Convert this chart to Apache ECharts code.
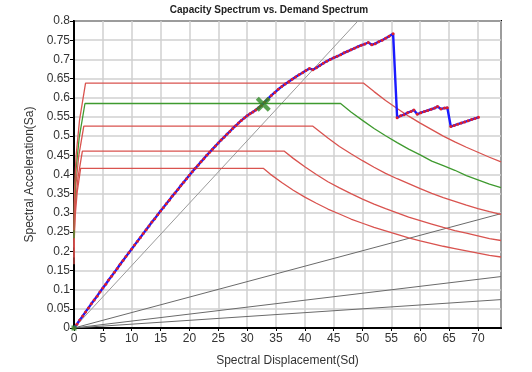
<!DOCTYPE html>
<html><head><meta charset="utf-8">
<script src="https://cdn.jsdelivr.net/npm/echarts@6/dist/echarts.min.js"></script>
<style>html,body{margin:0;padding:0;background:#fff}#c{width:532px;height:372px}</style>
</head><body><div id="c"></div>
<script>
// Capacity curve [Sd, Sa]
var capacity = [
[0,0],[0.5,0.010],[1.0,0.021],[1.5,0.031],[2.0,0.042],[2.5,0.052],[3.0,0.063],[3.5,0.073],[4.0,0.083],[4.5,0.094],
[5.0,0.104],[5.5,0.114],[6.0,0.125],[6.5,0.135],[7.0,0.145],[7.5,0.155],[8.0,0.166],[8.5,0.176],[9.0,0.186],[9.5,0.196],
[10.0,0.206],[10.5,0.216],[11.0,0.226],[11.5,0.236],[12.0,0.246],[12.5,0.256],[13.0,0.266],[13.5,0.276],[14.0,0.285],[14.5,0.295],
[15.0,0.305],[15.5,0.314],[16.0,0.324],[16.5,0.333],[17.0,0.343],[17.5,0.352],[18.0,0.361],[18.5,0.371],[19.0,0.380],[19.5,0.389],
[20.0,0.398],[20.5,0.407],[21.0,0.416],[21.5,0.424],[22.0,0.433],[22.5,0.441],[23.0,0.450],[23.5,0.458],[24.0,0.466],[24.5,0.474],
[25.0,0.482],[25.5,0.490],[26.0,0.497],[26.5,0.505],[27.0,0.512],[27.5,0.520],[28.0,0.527],[28.5,0.534],[29.0,0.541],[29.5,0.547],
[30.0,0.553],[30.5,0.558],[31.0,0.563],[31.5,0.568],[32.0,0.574],[32.5,0.580],[33.0,0.588],[33.6,0.597],[34.2,0.606],[34.8,0.614],
[35.4,0.622],[36.0,0.629],[36.6,0.636],[37.2,0.642],[37.8,0.648],[38.4,0.654],[39.0,0.660],[39.6,0.665],[40.2,0.671],[40.8,0.676],
[41.4,0.673],[42.0,0.678],[42.6,0.684],[43.2,0.690],[43.8,0.695],[44.4,0.700],[45.0,0.704],[45.6,0.708],[46.2,0.712],[46.8,0.717],
[47.4,0.721],[48.0,0.725],[48.6,0.729],[49.2,0.733],[49.8,0.737],[50.4,0.740],[51.0,0.744],[51.6,0.738],[52.2,0.741],[52.8,0.746],
[53.4,0.750],[54.0,0.755],[54.6,0.760],[55.3,0.767],
[56.0,0.548],[56.6,0.553],[57.2,0.556],[57.8,0.561],[58.4,0.564],[58.9,0.568],[59.5,0.557],[60.1,0.561],[60.7,0.564],[61.3,0.567],
[61.9,0.570],[62.5,0.573],[63.0,0.577],[63.6,0.571],[64.2,0.573],[64.7,0.574],
[65.3,0.525],[65.9,0.528],[66.5,0.531],[67.1,0.534],[67.7,0.537],[68.3,0.540],[68.9,0.543],[69.5,0.546],[70.1,0.549]
];
// Demand spectra [Sd, Sa]
var demandRed1 = [[0,0.255],[0.07,0.351],[0.35,0.447],[0.96,0.542],[2.0,0.638],[50.2,0.638],[52,0.616],[54,0.593],[56,0.572],[58,0.552],[60,0.534],[62,0.517],[64,0.500],[66,0.485],[68,0.471],[70,0.458],[72,0.445],[74,0.433]];
var demandGreen = [[0,0.234],[0.065,0.322],[0.33,0.410],[0.91,0.497],[1.9,0.585],[46.2,0.585],[48,0.563],[50,0.541],[52,0.520],[54,0.501],[56,0.483],[58,0.466],[60,0.451],[62,0.435],[64,0.423],[66,0.411],[68,0.397],[70,0.386],[72,0.375],[74,0.366]];
var demandRed2 = [[0,0.210],[0.058,0.289],[0.30,0.368],[0.81,0.447],[1.7,0.526],[41.4,0.526],[44,0.495],[46,0.473],[48,0.454],[50,0.436],[52,0.419],[54,0.403],[56,0.389],[58,0.376],[60,0.363],[62,0.351],[64,0.340],[66,0.330],[68,0.320],[70,0.311],[72,0.303],[74,0.296]];
var demandRed3 = [[0,0.184],[0.05,0.254],[0.25,0.323],[0.69,0.392],[1.45,0.461],[36.4,0.461],[38,0.442],[40,0.420],[42,0.400],[44,0.381],[46,0.365],[48,0.350],[50,0.336],[52,0.323],[54,0.311],[56,0.300],[58,0.289],[60,0.280],[62,0.271],[64,0.262],[66,0.254],[68,0.247],[70,0.240],[72,0.233],[74,0.228]];
var demandRed4 = [[0,0.166],[0.04,0.229],[0.20,0.291],[0.55,0.354],[1.15,0.416],[32.8,0.416],[34,0.401],[36,0.379],[38,0.359],[40,0.341],[42,0.325],[44,0.310],[46,0.297],[48,0.284],[50,0.273],[52,0.262],[54,0.253],[56,0.244],[58,0.235],[60,0.227],[62,0.220],[64,0.213],[66,0.207],[68,0.201],[70,0.195],[72,0.189],[74,0.185]];
// Period lines from origin
var periodA = [[0,0],[49.2,0.8]];
var periodB = [[0,0],[74,0.298]];
var periodC = [[0,0],[74,0.134]];
var periodD = [[0,0],[74,0.074]];
// Performance point
var perfPoint = [[32.8,0.583]];
var originPoint = [[0,0]];

var xTicks = {min:0, max:74, interval:5};
var yTicks = {min:0, max:0.8, interval:0.05};

var chart = echarts.init(document.getElementById('c'), null, {renderer:'canvas'});
var font = 'Liberation Sans, Arial, sans-serif';
function demand(d, color){
  return {type:'line', data:d, showSymbol:false, symbol:'none', lineStyle:{color:color, width:1.3}, z:3, animation:false};
}
function period(d, color){
  return {type:'line', data:d, showSymbol:false, symbol:'none', lineStyle:{color:color, width:1}, z:2, animation:false};
}
var xPath = 'path://M0,4 L4,0 L10,6 L16,0 L20,4 L14,10 L20,16 L16,20 L10,14 L4,20 L0,16 L6,10 Z';
chart.setOption({
  animation:false,
  backgroundColor:'#fff',
  title:{text:'Capacity Spectrum vs. Demand Spectrum', left:264, textAlign:'center', top:0,
    textStyle:{fontSize:10, fontWeight:'bold', color:'#222', fontFamily:font}},
  grid:{left:74, right:31, top:21, bottom:44, show:true, borderColor:'#000', borderWidth:2, backgroundColor:'#fff'},
  xAxis:{type:'value', min:xTicks.min, max:xTicks.max, interval:xTicks.interval,
    name:'Spectral Displacement(Sd)', nameLocation:'middle', nameGap:27,
    nameTextStyle:{fontSize:12, color:'#333', fontFamily:font},
    axisLine:{show:true, onZero:false, lineStyle:{color:'#000', width:2}},
    axisTick:{show:true, length:3, lineStyle:{color:'#000'}},
    axisLabel:{fontSize:12, color:'#333', margin:5, fontFamily:font, showMaxLabel:false},
    splitLine:{show:true, lineStyle:{color:'#d0d0d0', width:1.5}}},
  yAxis:{type:'value', min:yTicks.min, max:yTicks.max, interval:yTicks.interval,
    name:'Spectral Acceleration(Sa)', nameLocation:'middle', nameGap:38,
    nameTextStyle:{fontSize:12, color:'#333', fontFamily:font},
    axisLine:{show:true, onZero:false, lineStyle:{color:'#000', width:2}},
    axisTick:{show:true, length:4, lineStyle:{color:'#000'}},
    axisLabel:{fontSize:12, color:'#333', margin:4, fontFamily:font},
    splitLine:{show:true, lineStyle:{color:'#d0d0d0', width:1.5}}},
  series:[
    period(periodA,'#9a9a9a'), period(periodB,'#6a6a6a'), period(periodC,'#6a6a6a'), period(periodD,'#6a6a6a'),
    demand(demandRed4,'#d9534f'), demand(demandRed3,'#d9534f'), demand(demandRed2,'#d9534f'),
    demand(demandGreen,'#3f9a2f'), demand(demandRed1,'#d9534f'),
    {type:'line', data:capacity, symbol:'circle', symbolSize:3, showSymbol:true, showAllSymbol:true,
      itemStyle:{color:'#e0202a', borderWidth:0}, lineStyle:{color:'#1a1aff', width:2.4}, z:5, animation:false},
    {type:'scatter', data:perfPoint, symbol:xPath, symbolSize:15, itemStyle:{color:'#2f8a25'}, z:6, animation:false},
    {type:'scatter', data:originPoint, symbol:'rect', symbolSize:5, itemStyle:{color:'#2f8a25'}, z:6, animation:false}
  ]
});
</script></body></html>
